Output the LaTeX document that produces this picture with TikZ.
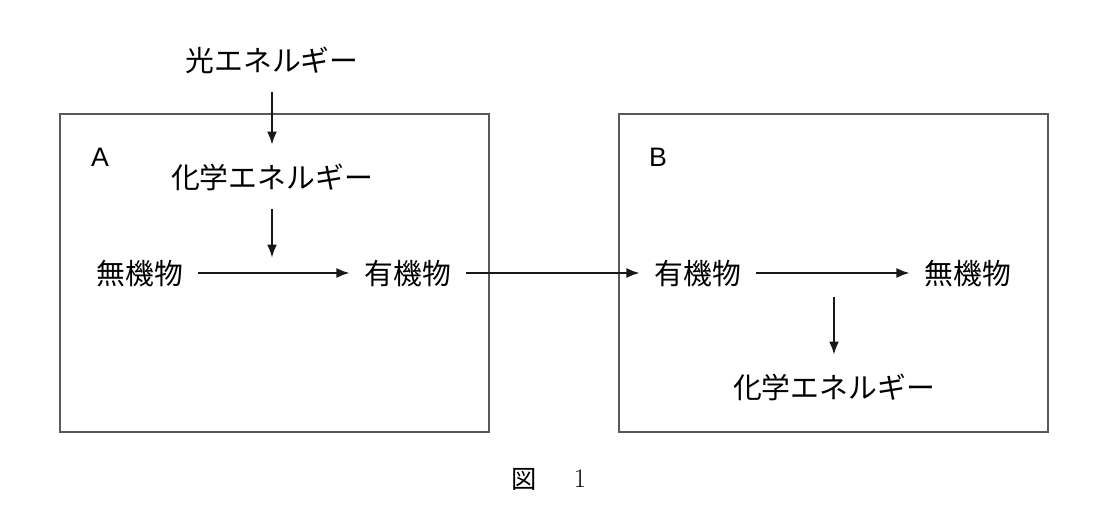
\documentclass[tikz,border=0pt]{standalone}
\usepackage{fontspec}
\newfontfamily\jpfont{Noto Sans CJK JP}
\newfontfamily\tagfont{Liberation Sans}
\usepackage{tikz}
\usetikzlibrary{arrows.meta,positioning}

\begin{document}
\begin{tikzpicture}[
  >={Latex[length=3.3mm,width=2.5mm]},
  font=\jpfont\fontsize{20.5}{24}\selectfont,
  term/.style={inner xsep=0.37cm, inner ysep=0.3cm, text height=0.79cm, text depth=0.21cm},
  frame/.style={draw=black!65, line width=1pt},
  tag/.style={font=\tagfont\fontsize{19}{22}\selectfont, inner sep=0pt},
  flow/.style={->, line width=1.5pt, draw=black!90},
  caption/.style={font=\jpfont\fontsize{18}{22}\selectfont, inner sep=0pt}
]
\useasboundingbox (0,0) rectangle (27.875,13.275);

% ==================== Frames ====================
\draw[frame] (1.5,2.475) rectangle (12.225,10.425);
\draw[frame] (15.475,2.475) rectangle (26.2,10.425);
\node[tag] (labA) at (2.5,9.34) {A};
\node[tag] (labB) at (16.45,9.34) {B};

% ==================== Terms (box A) ====================
\node[term] (light)  at (6.8,11.775) {光エネルギー};
\node[term] (chemA)  at (6.8,8.85)   {化学エネルギー};
\node[term] (inorgA) at (3.5,6.45)   {無機物};
\node[term] (orgA)   at (10.2,6.45)  {有機物};

% ==================== Terms (box B) ====================
\node[term] (orgB)   at (17.45,6.45) {有機物};
\node[term] (inorgB) at (24.2,6.45)  {無機物};
\node[term] (chemB)  at (20.85,3.6)  {化学エネルギー};

% helper points on the horizontal arrows
\coordinate (joinA) at ([yshift=0.38cm]chemA |- inorgA);
\coordinate (joinB) at ([yshift=-0.6cm]chemB |- orgB);

% ==================== Arrows ====================
\draw[flow] (light) -- (chemA);
\draw[flow] (chemA) -- (joinA);
\draw[flow] (inorgA) -- (orgA);
\draw[flow] (orgA) -- (orgB);
\draw[flow] (orgB) -- (inorgB);
\draw[flow] (joinB) -- (chemB);

% ==================== Caption ====================
\node[caption] (fig) at (13.1,1.3) {図};
\node[caption, font=\rmfamily\fontsize{19}{22}\selectfont] (fignum) at (14.5,1.3) {1};

\end{tikzpicture}
\end{document}
